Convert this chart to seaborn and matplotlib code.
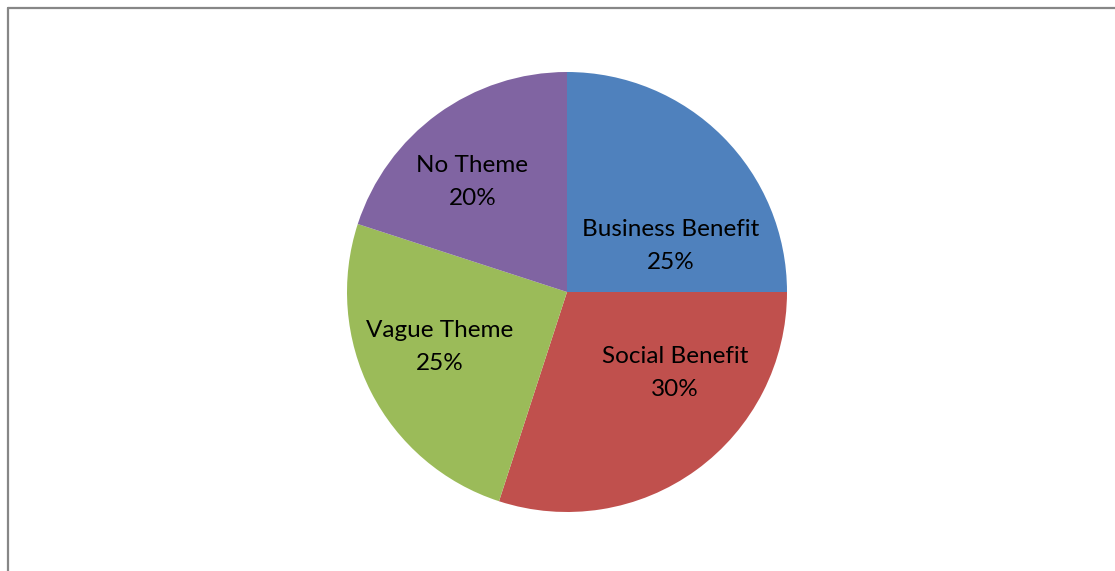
import matplotlib
matplotlib.use("Agg")
import matplotlib.pyplot as plt
from matplotlib.lines import Line2D
import seaborn as sns
import numpy as np

categories = ["Business Benefit", "Social Benefit", "Vague Theme", "No Theme"]
shares = [25, 30, 25, 20]
colors = ["#4F81BD", "#C0504D", "#9BBB59", "#8064A2"]

# label anchors in pie-radius units (best-fit style placement)
label_pos = [(0.47, -0.21), (0.49, 0.37), (-0.58, 0.25), (-0.43, -0.50)]

sns.set_theme(style="white")
plt.rcParams["font.family"] = ["Lato", "DejaVu Sans"]

W, H = 1115, 571
fig = plt.figure(figsize=(W / 100, H / 100), dpi=100)
fig.patch.set_facecolor("white")

cx, cy, r = 567, 292, 220
half = 1.1 * r
ax = fig.add_axes([(cx - half) / W, (H - cy - half) / H, 2 * half / W, 2 * half / H])

wedges, _ = ax.pie(shares, colors=colors, startangle=90, counterclock=False,
                   radius=1.0, wedgeprops=dict(linewidth=0))
for name, val, (dx, dy) in zip(categories, shares, label_pos):
    ax.text(dx, -dy, f"{name}\n{val}%", ha="center", va="center",
            fontsize=17.5, color="black", linespacing=1.7)
ax.set_xlim(-1.1, 1.1)
ax.set_ylim(-1.1, 1.1)
ax.set_aspect("equal")
ax.axis("off")

# chart-area frame: top and left edges
edge = "#878787"
fig.add_artist(Line2D([7.5 / W, 1.0], [1 - 7.5 / H, 1 - 7.5 / H], color=edge, lw=1.6,
                      transform=fig.transFigure))
fig.add_artist(Line2D([7.5 / W, 7.5 / W], [0.0, 1 - 7.5 / H], color=edge, lw=1.6,
                      transform=fig.transFigure))

fig.savefig("out.png", dpi=100, facecolor="white")
